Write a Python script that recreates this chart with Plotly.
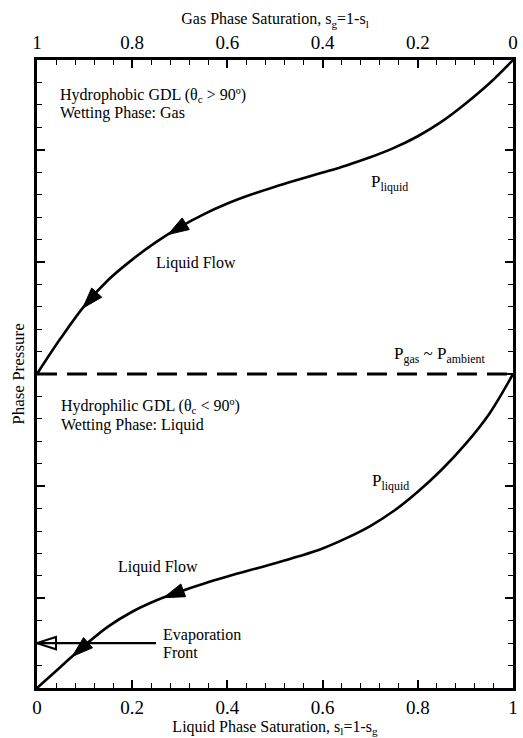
import numpy as np
import plotly.graph_objects as go

# Liquid saturation grid and phase pressure curves (arbitrary units, P_gas = 0)
S_L = [0.0, 0.05, 0.10, 0.15, 0.20, 0.25, 0.30, 0.35, 0.40, 0.45, 0.50,
       0.55, 0.60, 0.65, 0.70, 0.75, 0.80, 0.85, 0.90, 0.95, 1.0]
P_HYDROPHOBIC = [0.0, 1.6, 3.05, 4.2, 5.1, 5.88, 6.55, 7.12, 7.6, 8.0, 8.35,
                 8.67, 8.98, 9.3, 9.66, 10.08, 10.6, 11.25, 12.05, 12.95, 14.0]
P_HYDROPHILIC = [-14.0, -13.05, -12.1, -11.25, -10.6, -10.1, -9.7, -9.35, -9.03, -8.73, -8.44,
                 -8.13, -7.78, -7.32, -6.78, -6.1, -5.25, -4.27, -3.13, -1.78, 0.0]

P_GAS = 0.0              # gas phase pressure ~ ambient
S_G_SPAN = [1.0, 0.0]    # gas saturation extent along the top axis
Y_RANGE = [-14, 14]
MAJOR_X = [0, 0.2, 0.4, 0.6, 0.8, 1.0]
MAJOR_Y = [-10, -5, 0, 5, 10]

# flow direction arrows (liquid saturation at the arrow tips)
FLOW_ARROWS_PHOBIC = [0.096, 0.275]
FLOW_ARROWS_PHILIC = [0.074, 0.266]
ARROW_TAIL_DS = 0.03

# evaporation front
EVAP_LEVEL = -12.0
EVAP_TAIL = 0.25

FONT = "Liberation Serif, Times New Roman, Times, serif"
BLACK = "black"


def arrow_points(tips, curve):
    xs, ys = [], []
    for s in tips:
        t = s + ARROW_TAIL_DS
        xs += [t, s]
        ys += [float(np.interp(t, S_L, curve)), float(np.interp(s, S_L, curve))]
    return xs, ys


fig = go.Figure()

# gas pressure reference line, on the gas saturation axis
fig.add_trace(go.Scatter(
    x=S_G_SPAN, y=[P_GAS, P_GAS], xaxis="x2", yaxis="y",
    mode="lines", line=dict(color=BLACK, width=3, dash="20px,10px"),
    hoverinfo="skip", showlegend=False))

for curve in (P_HYDROPHOBIC, P_HYDROPHILIC):
    fig.add_trace(go.Scatter(
        x=S_L, y=curve, mode="lines",
        line=dict(color=BLACK, width=2.6, shape="spline", smoothing=1.0),
        cliponaxis=False, showlegend=False, hoverinfo="skip"))

for tips, curve in ((FLOW_ARROWS_PHOBIC, P_HYDROPHOBIC), (FLOW_ARROWS_PHILIC, P_HYDROPHILIC)):
    ax, ay = arrow_points(tips, curve)
    fig.add_trace(go.Scatter(
        x=ax, y=ay, mode="markers",
        marker=dict(symbol="arrow", size=[0, 22] * len(tips), color=BLACK, opacity=1,
                    angleref="previous", line=dict(width=1, color=BLACK)),
        showlegend=False, hoverinfo="skip"))

# evaporation front arrow
fig.add_trace(go.Scatter(
    x=[EVAP_TAIL, 0.0], y=[EVAP_LEVEL, EVAP_LEVEL], mode="lines+markers",
    line=dict(color=BLACK, width=2.2),
    marker=dict(symbol="arrow-open", size=[0, 20], color=BLACK, opacity=1,
                angleref="previous", line=dict(width=2, color=BLACK)),
    showlegend=False, hoverinfo="skip"))


def label(text, x, y, size=16):
    fig.add_annotation(x=x, y=y, xref="x", yref="y", text=text, showarrow=False,
                       xanchor="left", yanchor="middle",
                       font=dict(family=FONT, size=size, color=BLACK))


label("Hydrophobic GDL (θ<sub>c</sub> > 90º)", 0.044, 12.4)
label("Wetting Phase: Gas", 0.044, 11.65)
label("Hydrophilic GDL (θ<sub>c</sub> < 90º)", 0.046, -1.47)
label("Wetting Phase: Liquid", 0.046, -2.27)
label("Liquid Flow", 0.245, 4.95)
label("Liquid Flow", 0.166, -8.6)
label("P<sub>liquid</sub>", 0.697, 8.5, 17)
label("P<sub>liquid</sub>", 0.699, -4.8, 17)
label("P<sub>gas</sub> ~ P<sub>ambient</sub>", 0.746, 0.85, 17)
label("Evaporation", 0.26, -11.62)
label("Front", 0.26, -12.4)

axis_common = dict(
    showgrid=False, zeroline=False, showline=True, linecolor=BLACK, linewidth=3,
    ticks="inside", ticklen=8, tickwidth=2, tickcolor=BLACK,
    tickfont=dict(family=FONT, size=19, color=BLACK),
)

fig.update_layout(
    width=523, height=738,
    margin=dict(l=37, r=5, t=60, b=50),
    paper_bgcolor="white", plot_bgcolor="white",
    font=dict(family=FONT, color=BLACK),
    xaxis=dict(
        **axis_common, range=[0, 1], tickvals=MAJOR_X, side="bottom",
        minor=dict(dtick=0.04, ticks="inside", ticklen=5, tickwidth=1, tickcolor=BLACK),
        title=dict(text="Liquid Phase Saturation, s<sub>l</sub>=1-s<sub>g</sub>",
                   font=dict(family=FONT, size=16, color=BLACK), standoff=4),
    ),
    xaxis2=dict(
        **axis_common, range=[1, 0], tickvals=MAJOR_X, side="top",
        overlaying="x", anchor="y",
        minor=dict(dtick=0.04, ticks="inside", ticklen=5, tickwidth=1, tickcolor=BLACK),
        title=dict(text="Gas Phase Saturation, s<sub>g</sub>=1-s<sub>l</sub>",
                   font=dict(family=FONT, size=16, color=BLACK), standoff=4),
    ),
    yaxis=dict(
        **axis_common, range=Y_RANGE, tickvals=MAJOR_Y, showticklabels=False,
        mirror="ticks",
        minor=dict(dtick=1, ticks="inside", ticklen=5, tickwidth=1, tickcolor=BLACK),
        title=dict(text="Phase Pressure", font=dict(family=FONT, size=17, color=BLACK),
                   standoff=6),
    ),
)

fig.write_html("out.html")
